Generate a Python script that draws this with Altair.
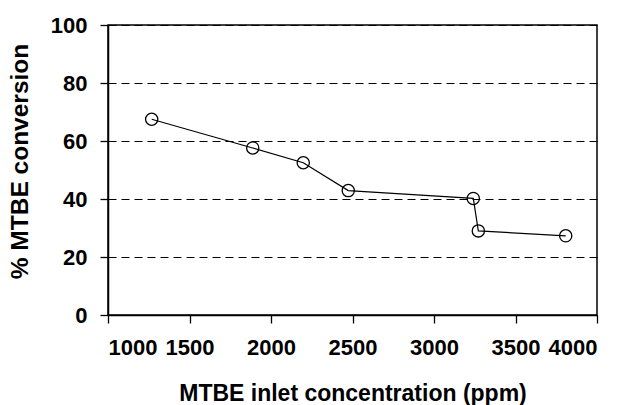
import altair as alt
import pandas as pd

inlet_ppm = [1268, 1888, 2198, 2474, 3241, 3272, 3808]
conversion = [67.5, 57.6, 52.5, 42.9, 40.2, 29.0, 27.3]

df = pd.DataFrame({"inlet": inlet_ppm, "conv": conversion, "order": list(range(len(inlet_ppm)))})

FONT = "Liberation Sans"

x = alt.X("inlet:Q", title="MTBE inlet concentration (ppm)",
          scale=alt.Scale(domain=[1000, 4000], nice=False, zero=False),
          axis=alt.Axis(values=[1000, 1500, 2000, 2500, 3000, 3500, 4000], grid=False, format="d",
                        tickSize=8, labelPadding=14, titlePadding=24, titleFontSize=23))
y = alt.Y("conv:Q", title="% MTBE conversion",
          scale=alt.Scale(domain=[0, 100], nice=False),
          axis=alt.Axis(values=[0, 20, 40, 60, 80, 100], grid=True, format="d",
                        gridDash=[8, 5], gridColor="black", gridWidth=1,
                        tickSize=8, labelPadding=13, titlePadding=18,
                        titleFontSize=24.5, titleY=136))

line = alt.Chart(df).mark_line(color="black", strokeWidth=1.2).encode(x=x, y=y, order="order:Q")
pts = alt.Chart(df).mark_point(shape="circle", size=150, filled=False, color="black",
                               strokeWidth=1.3, opacity=1).encode(x=x, y=y)

chart = (line + pts).properties(
    width=489, height=290,
    autosize=alt.AutoSizeParams(type="none"),
    padding={"left": 108, "top": 25, "right": 29, "bottom": 90},
).configure_view(stroke="black", strokeWidth=1.5).configure_axis(
    domainColor="black", domainWidth=1.5, tickColor="black", tickWidth=1.3,
    labelFont=FONT, labelFontSize=22, labelFontWeight="bold", labelColor="black",
    titleFont=FONT, titleFontWeight="bold", titleColor="black",
)

chart.save("out.html", embed_options={"renderer": "svg", "actions": False})
